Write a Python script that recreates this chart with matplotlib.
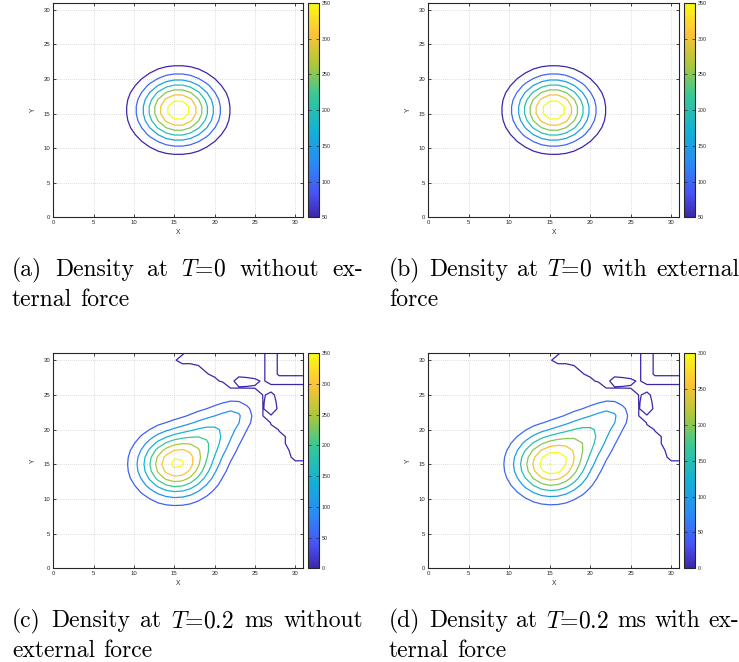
import numpy as np
import matplotlib
matplotlib.use("Agg")
import matplotlib.pyplot as plt
from matplotlib.colors import LinearSegmentedColormap, Normalize
from matplotlib.cm import ScalarMappable
from matplotlib.transforms import IdentityTransform

plt.rcParams["mathtext.fontset"] = "cm"
plt.rcParams["font.family"] = ["Liberation Sans", "DejaVu Sans"]

# ---------------- data ----------------
grid_x = np.arange(0, 32)
grid_y = np.arange(0, 32)
axis_ticks = [0, 5, 10, 15, 20, 25, 30]

# T = 0 density (same for (a) and (b))
t0_cx = [15.5]
t0_cy = [15.5]
t0_amp = [388.0]
t0_sig = [3.16]
t0_levels = [50, 100, 150, 200, 250, 300, 350]

# T = 0.2 ms, no external force (c)
c_cx = [15.2, 19.0, 20.5, 22.8]
c_cy = [15.0, 18.5, 20.2, 22.3]
c_amp = [355.0, 75.0, 75.0, 70.0]
c_sig = [3.0, 2.4, 2.3, 1.6]
c_levels = [0, 50, 100, 150, 200, 250, 300, 350]

# T = 0.2 ms, with external force (d)
d_cx = [15.2, 19.0, 20.5, 22.8]
d_cy = [15.0, 18.5, 20.2, 22.3]
d_amp = [335.0, 75.0, 75.0, 70.0]
d_sig = [2.98, 2.4, 2.3, 1.6]
d_levels = [0, 50, 100, 150, 200, 250, 300]
d_point_x = [15, 17]
d_point_y = [15, 16]
d_point_val = [299.0, 301.0]

# sign of the small numerical noise in the upper-right corner at T = 0.2 ms
# rows: Y = 31 down to 15, columns: X = 15 .. 31
noise_x0 = 15
noise_ytop = 31
noise_map = [
    "+p---------m+m---",
    "p----------m+m---",
    "+++p-------m+m---",
    "++++p------m+mmmm",
    "++++++--pppm+++++",
    "+++++++mmmmm-----",
    ".......++++mp----",
    "..........+mp----",
    "..........+mp----",
    "..........+mm----",
    "..........++-----",
    "...........++m---",
    "............++m--",
    ".............+m--",
    "..............p--",
    "..............+--",
    "...............++",
]
noise_values = {"+": 1.0, "p": 0.3, "m": -0.3, "-": -1.0}

parula_pos = [0.0, 0.11, 0.24, 0.40, 0.57, 0.71, 0.86, 1.0]
parula_rgb = [(0.2422, 0.1504, 0.6603), (0.2810, 0.3228, 0.9579),
              (0.1786, 0.5289, 0.9682), (0.0689, 0.6948, 0.8394),
              (0.2161, 0.7843, 0.5923), (0.6720, 0.7793, 0.2227),
              (0.9970, 0.7659, 0.2199), (0.9769, 0.9839, 0.0805)]

captions = {
    "a": [["(a)", "Density", "at", "$T$=0", "without", "ex-"], ["ternal", "force"]],
    "b": [["(b)", "Density", "at", "$T$=0", "with", "external"], ["force"]],
    "c": [["(c)", "Density", "at", "$T$=0.2", "ms", "without"], ["external", "force"]],
    "d": [["(d)", "Density", "at", "$T$=0.2", "ms", "with", "ex-"], ["ternal", "force"]],
}

# ---------------- fields ----------------
parula = LinearSegmentedColormap.from_list("parula", list(zip(parula_pos, parula_rgb)))
GX, GY = np.meshgrid(grid_x, grid_y)


def blob(cx, cy, amp, sig):
    z = np.zeros(GX.shape)
    for x0, y0, a, s in zip(cx, cy, amp, sig):
        z += a * np.exp(-((GX - x0) ** 2 + (GY - y0) ** 2) / (2 * s * s))
    return z


def add_noise(z):
    z = z.copy()
    for i, row in enumerate(noise_map):
        yy = noise_ytop - i
        for j, ch in enumerate(row):
            xx = noise_x0 + j
            if ch in "+p":
                z[yy, xx] = max(z[yy, xx], noise_values[ch])
            elif ch in "-m":
                z[yy, xx] = noise_values[ch]
    return z


field_t0 = blob(t0_cx, t0_cy, t0_amp, t0_sig)
field_c = add_noise(blob(c_cx, c_cy, c_amp, c_sig))
field_d = add_noise(blob(d_cx, d_cy, d_amp, d_sig))
for px, py, pv in zip(d_point_x, d_point_y, d_point_val):
    field_d[py, px] = pv

# ---------------- figure ----------------
W, H = 739, 662
fig = plt.figure(figsize=(W / 100, H / 100), dpi=100)
TXT = "#262626"


def add_px_axes(x0, y0, x1, y1):
    return fig.add_axes([x0 / W, 1 - y1 / H, (x1 - x0) / W, (y1 - y0) / H])


def draw_panel(field, levels, box, cbox):
    ax = add_px_axes(*box)
    norm = Normalize(levels[0], levels[-1])
    ax.contour(grid_x, grid_y, field, levels=levels, cmap=parula, norm=norm,
               linewidths=0.9)
    ax.set_xlim(0, 31)
    ax.set_ylim(0, 31)
    ax.set_xticks(axis_ticks)
    ax.set_yticks(axis_ticks)
    ax.grid(True, linestyle=(0, (1, 2)), color="#bdbdbd", linewidth=0.5)
    ax.set_axisbelow(True)
    ax.tick_params(direction="in", top=True, right=True, length=2.2, width=0.6,
                   labelsize=4.3, colors=TXT, pad=2)
    for s in ax.spines.values():
        s.set_color(TXT)
        s.set_linewidth(0.8)
    ax.set_xlabel("X", fontsize=4.8, color=TXT, labelpad=2.5)
    ax.set_ylabel("Y", fontsize=4.8, color=TXT, labelpad=5)
    cax = add_px_axes(*cbox)
    cb = fig.colorbar(ScalarMappable(norm=norm, cmap=parula), cax=cax, ticks=levels)
    cb.outline.set_edgecolor(TXT)
    cb.outline.set_linewidth(0.8)
    cax.tick_params(direction="in", left=True, right=True, length=2, width=0.5,
                    labelsize=3.8, colors=TXT, pad=1.5)
    return ax


draw_panel(field_t0, t0_levels, (53.3, 2.8, 303.3, 217.3), (307.7, 2.8, 319.3, 217.3))
draw_panel(field_t0, t0_levels, (428.3, 2.8, 679.3, 217.3), (684.3, 2.8, 695.3, 217.3))
draw_panel(field_c, c_levels, (53.3, 353.3, 303.3, 568.3), (307.7, 353.3, 319.3, 568.3))
draw_panel(field_d, d_levels, (428.3, 353.3, 679.3, 568.3), (684.3, 353.3, 695.3, 568.3))

# ---------------- captions (justified like LaTeX subcaptions) ----------------
renderer = fig.canvas.get_renderer()
CAP_FS = 17
space_px = 0.333 * CAP_FS * 100 / 72


def caption(lines, x0, x1, y_first, dy):
    for k, words in enumerate(lines):
        ypix = H - (y_first + k * dy)
        objs = [fig.text(0, ypix, w, fontsize=CAP_FS, family="cmr10", color="black",
                         transform=IdentityTransform(), va="baseline", ha="left")
                for w in words]
        widths = [o.get_window_extent(renderer).width for o in objs]
        justify = k < len(lines) - 1 and len(words) > 1
        gap = (x1 - x0 - sum(widths)) / (len(words) - 1) if justify else space_px
        x = x0
        for o, w in zip(objs, widths):
            o.set_x(x)
            x += w + gap


caption(captions["a"], 12, 363, 276, 30)
caption(captions["b"], 389, 739, 276, 30)
caption(captions["c"], 12, 363, 627, 30)
caption(captions["d"], 389, 739, 627, 30)

fig.savefig("out.png", dpi=100)
